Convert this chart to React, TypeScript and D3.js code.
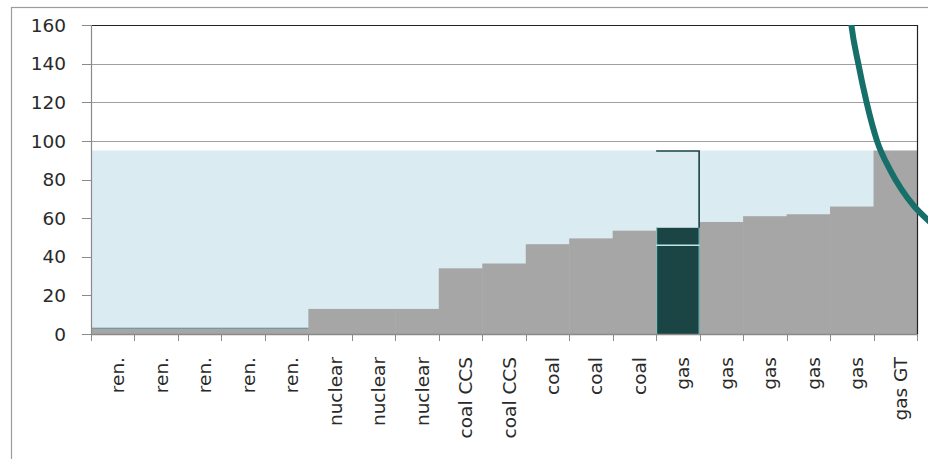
import React from "react";
import * as d3 from "d3";

const categories = [
  "ren.", "ren.", "ren.", "ren.", "ren.",
  "nuclear", "nuclear", "nuclear",
  "coal CCS", "coal CCS",
  "coal", "coal", "coal",
  "gas", "gas", "gas", "gas", "gas",
  "gas GT",
];
const costs = [3, 3, 3, 3, 3, 13, 13, 13, 34, 36.5, 46.5, 49.5, 53.5, 55, 58, 61, 62, 66, 95];
const yTicks = [0, 20, 40, 60, 80, 100, 120, 140, 160];
const demandLevel = 95;
const highlightIndex = 13;
const highlightInner = 46;
// demand curve points: [category position, value]
const demandCurve: [number, number][] = [
  [17.44, 170], [17.49, 160], [17.65, 140], [17.84, 120], [18.08, 100],
  [18.38, 85], [18.64, 75], [18.94, 66], [19.3, 58], [19.45, 55],
];

const W = 928, H = 459;
const L = 91, R = 917, T = 25, B = 334;

export default function App() {
  const idx = categories.map((_, i) => String(i));
  const x = d3.scaleBand<string>().domain(idx).range([L, R]).padding(0);
  const xc = d3.scaleLinear().domain([0, categories.length]).range([L, R]);
  const y = d3.scaleLinear().domain([0, 160]).range([B, T]);
  const line = d3
    .line<[number, number]>()
    .x((d) => xc(d[0]))
    .y((d) => y(d[1]))
    .curve(d3.curveMonotoneX);
  const font = "'DejaVu Sans', Verdana, sans-serif";
  const hx0 = x(String(highlightIndex))!;
  const hx1 = hx0 + x.bandwidth();

  return (
    <svg
      width={W}
      height={H}
      style={{ position: "absolute", left: 0, top: 0, background: "#fff" }}
    >
      <defs>
        <clipPath id="curveClip">
          <rect x={L} y={T} width={W - L} height={H - T} />
        </clipPath>
      </defs>
      {/* outer chart frame */}
      <rect x={11.5} y={7.5} width={1000} height={1000} fill="#fff" stroke="#9c9c9c" strokeWidth={1.2} />

      {/* grid lines */}
      {yTicks.filter((t) => t > 0 && t < 160).map((t) => (
        <line key={t} x1={L} x2={R} y1={Math.round(y(t)) + 0.5} y2={Math.round(y(t)) + 0.5} stroke="#a0a0a0" strokeWidth={1} />
      ))}

      {/* demand level area */}
      <rect x={L} y={y(demandLevel)} width={R - L} height={y(0) - y(demandLevel)} fill="#daecf2" />

      {/* merit order bars */}
      {costs.map((v, i) => (
        <rect
          key={i}
          x={x(String(i))!}
          y={y(v)}
          width={x.bandwidth() + (i < costs.length - 1 ? 0.5 : 0)}
          height={y(0) - y(v)}
          fill={i === highlightIndex ? "#1b4444" : "#a6a6a6"}
        />
      ))}
      {/* thin line on top of renewables */}
      {costs.map((v, i) =>
        categories[i] === "ren." ? (
          <line key={"r" + i} x1={x(String(i))!} x2={x(String(i))! + x.bandwidth()} y1={y(v)} y2={y(v)} stroke="#5f8e8e" strokeWidth={1} />
        ) : null
      )}
      {/* highlighted bar outline */}
      <line x1={hx0 + 0.5} x2={hx0 + 0.5} y1={y(costs[highlightIndex])} y2={B} stroke="#8fcfcf" strokeWidth={1} />
      <line x1={hx1 - 0.5} x2={hx1 - 0.5} y1={y(costs[highlightIndex])} y2={B} stroke="#8fcfcf" strokeWidth={1} />
      <line x1={hx0} x2={hx1} y1={y(highlightInner)} y2={y(highlightInner)} stroke="#bfe6e6" strokeWidth={1.5} />
      {/* bracket to demand level */}
      <polyline
        points={`${hx0},${y(demandLevel) + 0.5} ${hx1 - 0.5},${y(demandLevel) + 0.5} ${hx1 - 0.5},${y(costs[highlightIndex])}`}
        fill="none"
        stroke="#1b4444"
        strokeWidth={1.6}
      />

      {/* plot border top & right */}
      <line x1={L} x2={R} y1={T + 0.5} y2={T + 0.5} stroke="#222" strokeWidth={1.2} />
      <line x1={R + 0.5} x2={R + 0.5} y1={T} y2={B} stroke="#222" strokeWidth={1.2} />

      {/* axes */}
      <line x1={L + 0.5} x2={L + 0.5} y1={T} y2={B} stroke="#8a8a8a" strokeWidth={1.2} />
      <line x1={L} x2={R} y1={B + 0.5} y2={B + 0.5} stroke="#8a8a8a" strokeWidth={1.5} />
      {yTicks.map((t) => (
        <g key={t}>
          <line x1={L - 9} x2={L} y1={Math.round(y(t)) + 0.5} y2={Math.round(y(t)) + 0.5} stroke="#8a8a8a" strokeWidth={1} />
          <text x={66} y={y(t)} dy="0.36em" textAnchor="end" fontFamily={font} fontSize={18.5} fill="#2a2a2a">
            {t}
          </text>
        </g>
      ))}
      {d3.range(categories.length + 1).map((i) => (
        <line key={"xt" + i} x1={Math.round(xc(i)) + 0.5} x2={Math.round(xc(i)) + 0.5} y1={B} y2={B + 7} stroke="#8a8a8a" strokeWidth={1} />
      ))}
      {categories.map((c, i) => {
        const cx = x(String(i))! + x.bandwidth() / 2 + 11.5;
        const cy = 357;
        return (
          <text
            key={"lbl" + i}
            transform={`translate(${cx},${cy}) rotate(-90)`}
            textAnchor="end"
            fontFamily={font}
            fontSize={18.5}
            fill="#2a2a2a"
          >
            {c}
          </text>
        );
      })}

      {/* demand curve */}
      <path d={line(demandCurve) || ""} fill="none" stroke="#176f6a" strokeWidth={6} clipPath="url(#curveClip)" />
    </svg>
  );
}
